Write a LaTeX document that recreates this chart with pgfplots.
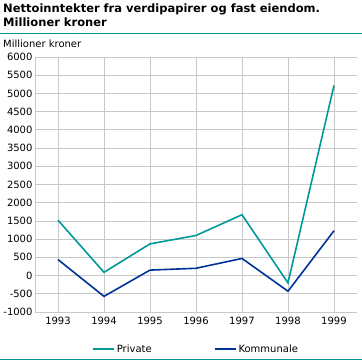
\documentclass[border=0pt]{standalone}
\usepackage{pgfplots}
\pgfplotsset{compat=1.18}
\usepackage{fontspec}
\setmainfont{DejaVu Sans}
\definecolor{teal1}{RGB}{0,153,153}
\definecolor{navy1}{RGB}{0,51,153}
\definecolor{grid1}{RGB}{200,200,200}
\begin{document}
\begin{tikzpicture}
\useasboundingbox (0pt,0pt) rectangle (362pt,361pt);
\node[anchor=north west,inner sep=0pt,align=left,font=\bfseries\fontsize{11.5}{14}\selectfont] at (3pt,357pt) {Nettoinntekter fra verdipapirer og fast eiendom.\\Millioner kroner};
\draw[teal1,line width=1pt] (0pt,327pt) -- (362pt,327pt);
\node[anchor=north west,inner sep=0pt,font=\fontsize{10}{12}\selectfont] at (3pt,321pt) {Millioner kroner};
\draw[teal1,line width=1pt] (0pt,1pt) -- (362pt,1pt);
\begin{axis}[
  at={(35pt,49pt)}, anchor=south west,
  scale only axis, width=322pt, height=255pt,
  xmin=1992.5, xmax=1999.5, ymin=-1000, ymax=6000,
  xtick={1993,...,1999}, ytick={-1000,-500,...,6000},
  xticklabel style={/pgf/number format/1000 sep=},
  yticklabel style={/pgf/number format/1000 sep=},
  /pgf/number format/assume math mode=true,
  ticklabel style={font=\fontsize{10}{12}\selectfont},
  grid=major, major grid style={grid1, line width=0.8pt},
  axis line style={grid1, line width=0.8pt},
  major tick length=0pt,
  axis x line*=bottom, axis y line*=left,
  xticklabel shift=2pt, yticklabel shift=-1pt,
  legend style={at={(0.5,-0.145)}, anchor=center, draw=none, legend columns=2,
    font=\fontsize{10}{12}\selectfont, /tikz/every even column/.append style={column sep=60pt}},
  legend image code/.code={\draw[#1,line width=1.8pt] (0pt,0pt) -- (21pt,0pt);},
]
\addplot[teal1, line width=1.6pt] coordinates {(1993,1520) (1994,90) (1995,870) (1996,1100) (1997,1670) (1998,-200) (1999,5220)};
\addlegendentry{Private}
\addplot[navy1, line width=1.6pt] coordinates {(1993,440) (1994,-570) (1995,150) (1996,200) (1997,470) (1998,-430) (1999,1230)};
\addlegendentry{Kommunale}
\end{axis}
\end{tikzpicture}
\end{document}
